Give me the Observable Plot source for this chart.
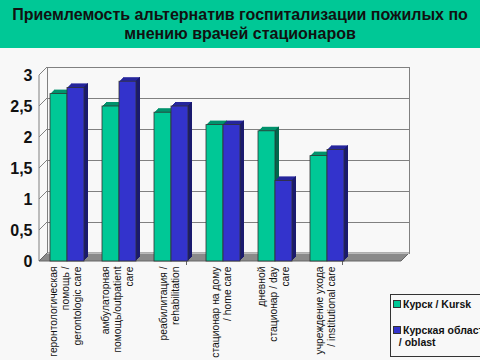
<!DOCTYPE html>
<html>
<head>
<meta charset="utf-8">
<script src="https://cdn.jsdelivr.net/npm/d3@7"></script>
<script src="https://cdn.jsdelivr.net/npm/@observablehq/plot@0.6"></script>
<style>
  html, body { margin: 0; padding: 0; background: #f8f8f8; overflow: hidden; width: 480px; height: 360px; }
  #title { height: 48px; background: #00c896; color: #111; font: bold 16px "Liberation Sans", Arial, sans-serif;
           text-align: center; line-height: 18.5px; padding-top: 6px; box-sizing: border-box; }
  #chart { position: relative; }
  #legend { position: absolute; left: 390px; top: 294px; width: 120px; height: 63px; border: 1px solid #333;
            background: #f8f8f8; font: bold 10.5px "Liberation Sans", Arial, sans-serif; color: #111; box-sizing: border-box; }
  .item { position: absolute; left: 2px; white-space: nowrap; line-height: 12px; }
  .sw { display: inline-block; width: 6px; height: 6px; border: 1px solid #333; margin-right: 2px; vertical-align: 0px; }
</style>
</head>
<body>
<div id="title">Приемлемость альтернатив госпитализации пожилых по<br>мнению врачей стационаров</div>
<div id="chart"></div>
<div id="legend">
  <div class="item" style="top:3px"><span class="sw" style="background:#00c896"></span>Курск / Kursk</div>
  <div class="item" style="top:29px"><span class="sw" style="background:#3333cc"></span>Курская область<br>&nbsp;&nbsp;/ oblast</div>
</div>
<script>
const categories = [
  "геронтологическая\nпомощь /\ngerontologic care",
  "амбулаторная\nпомощь/outpatient\ncare",
  "реабилитация /\nrehabilitation",
  "стационар на дому\n/ home care",
  "дневной\nстационар / day\ncare",
  "учреждение ухода\n/ institutional care"
];
const seriesNames = ["Курск / Kursk", "Курская область / oblast"];
const kursk  = [2.7, 2.5, 2.4, 2.2, 2.1, 1.7];
const oblast = [2.8, 2.9, 2.5, 2.2, 1.3, 1.8];
const yTicks = [0, 0.5, 1, 1.5, 2, 2.5, 3];
const yTickLabels = ["0", "0,5", "1", "1,5", "2", "2,5", "3"];

const green = categories.map((c, i) => ({cat: c, series: seriesNames[0], value: kursk[i]}));
const blue  = categories.map((c, i) => ({cat: c, series: seriesNames[1], value: oblast[i]}));

const D = 8;   // wall depth in px
const B = 4;   // bar depth in px
const half = 17;

function depthMarks(data, topColor, sideColor, inL, inR) {
  const m = [];
  for (let k = 1; k <= B; k++) {
    m.push(Plot.barY(data, {x: "cat", y: "value", fill: topColor, dx: k, dy: -k, insetLeft: inL, insetRight: inR}));
  }
  for (let k = 1; k <= B; k++) {
    m.push(Plot.barY(data, {x: "cat", y: "value", fill: sideColor, dx: k, dy: -k, insetLeft: 2 * half - inR - 1, insetRight: inR}));
  }
  return m;
}

function walls(index, scales, values, dim) {
  const g = d3.create("svg:g");
  const left = dim.marginLeft, right = dim.width - dim.marginRight;
  const y = scales.y;
  const y0 = y(0);
  g.append("line").attr("x1", left).attr("x2", left).attr("y1", y0).attr("y2", y(3)).attr("stroke", "#808080");
  for (const t of yTicks) {
    g.append("line").attr("x1", left).attr("y1", y(t)).attr("x2", left + D).attr("y2", y(t) - D).attr("stroke", "#808080");
  }
  g.append("path")
    .attr("d", `M${left},${y0}L${right},${y0}L${right + D},${y0 - D}L${left + D},${y0 - D}Z`)
    .attr("fill", "#8a8a8a").attr("stroke", "#666");
  g.append("line").attr("x1", left + D).attr("x2", right + D).attr("y1", y0 - D + 0.5).attr("y2", y0 - D + 0.5).attr("stroke", "#bbb");
  const step = scales.x.step ? scales.x.step() : 52;
  const start = scales.x(categories[0]) - (step - scales.x.bandwidth());
  for (let k = 0; k <= categories.length; k += 3) {
    const xx = Math.round(start + k * step) + 0.5 - 2;
    g.append("line").attr("x1", xx).attr("x2", xx).attr("y1", y0).attr("y2", y0 + 4).attr("stroke", "#666");
  }
  return g.node();
}

const plot = Plot.plot({
  width: 480,
  height: 312,
  marginLeft: 39,
  marginRight: 79,
  marginTop: 27,
  marginBottom: 99,
  style: {background: "transparent", fontFamily: "'Liberation Sans', Arial, sans-serif", color: "#111", overflow: "visible"},
  x: {domain: categories, range: [50, 344], paddingInner: 18 / 52, paddingOuter: 0, align: 0, axis: null},
  y: {domain: [0, 3], axis: null},
  marks: [
    Plot.frame({stroke: "#808080", dx: D, dy: -D}),
    Plot.ruleY(yTicks.filter(t => t > 0), {stroke: "#808080", dx: D, dy: -D}),
    walls,
    ...depthMarks(green, "#00926c", "#00674c", 0, half),
    Plot.barY(green, {x: "cat", y: "value", fill: "#00c896", stroke: "#333", strokeWidth: 0.8, insetRight: half}),
    ...depthMarks(blue, "#25259c", "#1a1a6e", half, 0),
    Plot.barY(blue, {x: "cat", y: "value", fill: "#3333cc", stroke: "#333", strokeWidth: 0.8, insetLeft: half}),
    Plot.axisY({ticks: yTicks, tickFormat: (d) => yTickLabels[yTicks.indexOf(d)], tickSize: 0, tickPadding: 7,
                label: null, fontSize: 16, fontWeight: "bold", fill: "#111"}),
    Plot.text(categories, {x: d => d, text: d => d, frameAnchor: "bottom", dy: 5, dx: -2, rotate: -90,
                textAnchor: "end", lineAnchor: "middle", fontSize: 10.3, lineHeight: 1.17, fill: "#111"})
  ]
});
document.getElementById("chart").appendChild(plot);
</script>
</body>
</html>
